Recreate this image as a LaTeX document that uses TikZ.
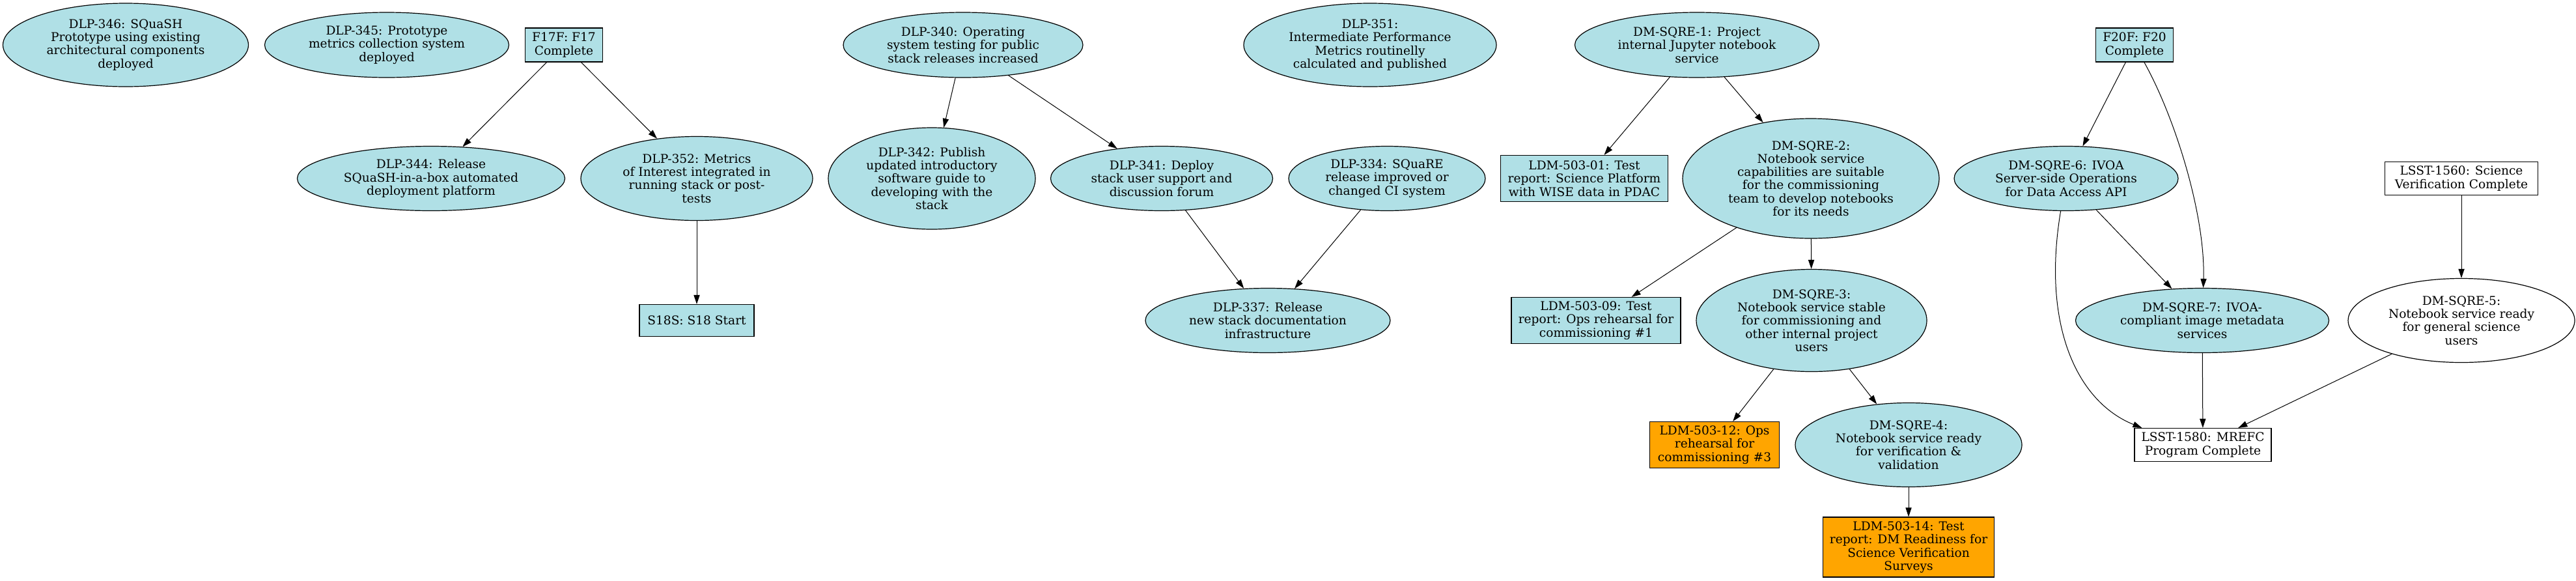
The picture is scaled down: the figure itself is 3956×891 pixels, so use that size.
\documentclass[tikz,border=0pt]{standalone}
\usepackage{fontspec}
\setmainfont{DejaVu Serif}
\usetikzlibrary{shapes.geometric,arrows.meta}
\definecolor{powder}{HTML}{B0E0E6}
\definecolor{ldmorange}{HTML}{FFA500}
\tikzset{
	every node/.style={font=\fontsize{9.3}{10.15}\selectfont,align=center},
	goal/.style 2 args={ellipse,draw,fill=powder,line width=.6pt,inner sep=-30pt,
		minimum width=#1pt,minimum height=#2pt},
	goalw/.style 2 args={goal={#1}{#2},fill=white},
	mark box/.style 2 args={rectangle,draw,fill=powder,line width=.6pt,inner sep=1pt,
		minimum width=#1pt,minimum height=#2pt},
	markw/.style 2 args={mark box={#1}{#2},fill=white},
	marko/.style 2 args={mark box={#1}{#2},fill=ldmorange},
}
\begin{document}
\begin{tikzpicture}[x=.5pt,y=-.5pt,>={Triangle[length=7pt,width=4.6pt]},line width=.5pt]
	\useasboundingbox (0,0) rectangle (3956,891);
	\path
	(193,69) node[goal={188.5}{64}] (dlp346)        % <<< row 1
	{DLP-346: SQuaSH\\Prototype using existing\\architectural components\\deployed}
	(594,69) node[goal={187.5}{50}] (dlp345)
	{DLP-345: Prototype\\metrics collection system\\deployed}
	(866,69) node[mark box={59.5}{26}] (f17f) {F17F: F17\\Complete}
	(1479,69) node[goal={184}{50}] (dlp340)
	{DLP-340: Operating\\system testing for public\\stack releases increased}
	(2104,69) node[goal={194}{64}] (dlp351)
	{DLP-351:\\Intermediate Performance\\Metrics routinelly\\calculated and published}
	(2606,69) node[goal={187.5}{50}] (sqre1)
	{DM-SQRE-1: Project\\internal Jupyter notebook\\service}
	(3278,69) node[mark box={59.5}{26}] (f20f) {F20F: F20\\Complete};
	\path
	(662,274) node[goal={205.5}{49.5}] (dlp344)     % <<< row 2
	{DLP-344: Release\\SQuaSH-in-a-box automated\\deployment platform}
	(1070,274) node[goal={178}{64.5}] (dlp352)
	{DLP-352: Metrics\\of Interest integrated in\\running stack or post-\\tests}
	(1431,274) node[goal={159}{78}] (dlp342)
	{DLP-342: Publish\\updated introductory\\software guide to\\developing with the\\stack}
	(1784,274) node[goal={170.5}{49.5}] (dlp341)
	{DLP-341: Deploy\\stack user support and\\discussion forum}
	(2130,274) node[goal={151}{49.5}] (dlp334)
	{DLP-334: SQuaRE\\release improved or\\changed CI system}
	(2433,274) node[mark box={128.5}{35.5}] (ldm01)
	{LDM-503-01: Test\\report: Science Platform\\with WISE data in PDAC}
	(2781,274) node[goal={197}{92}] (sqre2)
	{DM-SQRE-2:\\Notebook service\\capabilities are suitable\\for the commissioning\\team to develop notebooks\\for its needs}
	(3173,274) node[goal={172}{49.5}] (sqre6)
	{DM-SQRE-6: IVOA\\Server-side Operations\\for Data Access API}
	(3780,274) node[markw={117.5}{25.5}] (lsst1560)
	{LSST-1560: Science\\Verification Complete};
	\path
	(1070,492) node[mark box={88}{24.5}] (s18s) {S18S: S18 Start}   % <<< row 3
	(1947,492) node[goal={188}{49.5}] (dlp337)
	{DLP-337: Release\\new stack documentation\\infrastructure}
	(2451,492) node[mark box={130}{35.5}] (ldm09)
	{LDM-503-09: Test\\report: Ops rehearsal for\\commissioning \#1}
	(2782,492) node[goal={177}{78.5}] (sqre3)
	{DM-SQRE-3:\\Notebook service stable\\for commissioning and\\other internal project\\users}
	(3382,492) node[goal={194.5}{49.5}] (sqre7)
	{DM-SQRE-7: IVOA-\\compliant image metadata\\services}
	(3780,492) node[goalw={174}{64.5}] (sqre5)
	{DM-SQRE-5:\\Notebook service ready\\for general science\\users};
	\path
	(2633,683) node[marko={99.5}{35.5}] (ldm12)    % <<< row 4
	{LDM-503-12: Ops\\rehearsal for\\commissioning \#3}
	(2931,683) node[goal={174}{64.5}] (sqre4)
	{DM-SQRE-4:\\Notebook service ready\\for verification \&\\validation}
	(3383,683) node[markw={105}{25.5}] (lsst1580)
	{LSST-1580: MREFC\\Program Complete}
	(2931,840) node[marko={131.5}{46}] (ldm14)      % <<< row 5
	{LDM-503-14: Test\\report: DM Readiness for\\Science Verification\\Surveys};
	\coordinate (in1580) at ([xshift=6pt]lsst1580.north west);
	\draw[->] (f17f)--(dlp344);
	\draw[->] (f17f)--(dlp352);
	\draw[->] (dlp352)--(s18s);
	\draw[->] (dlp340)--(dlp342);
	\draw[->] (dlp340)--(dlp341);
	\draw[->] (dlp341)--(dlp337);
	\draw[->] (dlp334)--(dlp337);
	\draw[->] (sqre1)--(ldm01);
	\draw[->] (sqre1)--(sqre2);
	\draw[->] (sqre2)--(ldm09);
	\draw[->] (sqre2)--(sqre3);
	\draw[->] (sqre3)--(ldm12);
	\draw[->] (sqre3)--(sqre4);
	\draw[->] (sqre4)--(ldm14);
	\draw[->] (f20f)--(sqre6);
	\draw[->] (f20f) .. controls (3340,180) and (3387,330) .. (sqre7);
	\draw[->] (sqre6)--(sqre7);
	\draw[->] (sqre6) .. controls (3135,500) and (3190,617) .. (in1580);
	\draw[->] (sqre7)--(lsst1580);
	\draw[->] (lsst1560)--(sqre5);
	\draw[->] (sqre5)--(lsst1580);
\end{tikzpicture}
\end{document}
